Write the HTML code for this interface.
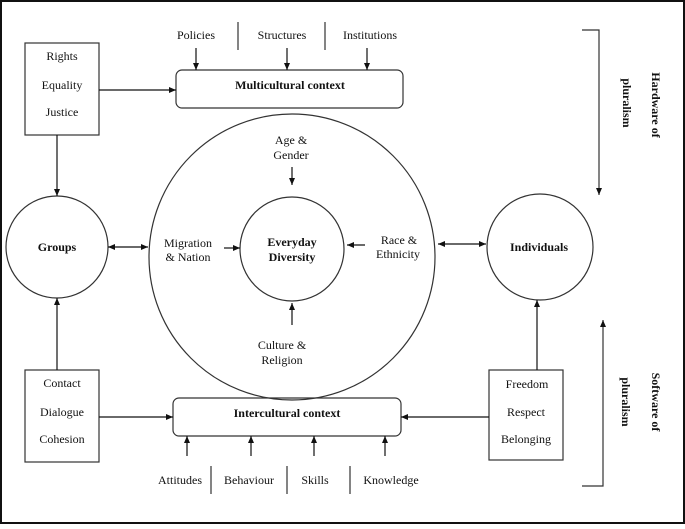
<!DOCTYPE html>
<html><head><meta charset="utf-8"><style>
html,body{margin:0;padding:0;background:#fff}
svg text{font-family:"Liberation Serif",serif;fill:#111}
</style></head><body>
<svg width="685" height="524" viewBox="0 0 685 524" xmlns="http://www.w3.org/2000/svg">
<defs>
<marker id="a" markerWidth="8" markerHeight="8" refX="7" refY="4" orient="auto-start-reverse" markerUnits="userSpaceOnUse">
<path d="M0,1 L7,4 L0,7 Z" fill="#111"/></marker>
</defs>
<rect x="1" y="1" width="683" height="522" fill="none" stroke="#111" stroke-width="2"/>
<g stroke="#333" stroke-width="1.2" fill="none">
<rect x="25" y="43" width="74" height="92"/>
<rect x="176" y="70" width="227" height="38" rx="6"/>
<circle cx="292" cy="257" r="143"/>
<circle cx="292" cy="249" r="52"/>
<circle cx="57" cy="247" r="51"/>
<circle cx="540" cy="247" r="53"/>
<rect x="25" y="370" width="74" height="92"/>
<rect x="173" y="398" width="228" height="38" rx="6"/>
<rect x="489" y="370" width="74" height="90"/>
<line x1="238" y1="22" x2="238" y2="50"/>
<line x1="325" y1="22" x2="325" y2="50"/>
<line x1="211" y1="466" x2="211" y2="494"/>
<line x1="287" y1="466" x2="287" y2="494"/>
<line x1="350" y1="466" x2="350" y2="494"/>
<polyline points="582,30 599,30 599,195" marker-end="url(#a)"/>
<polyline points="582,486 603,486 603,320" marker-end="url(#a)"/>
</g>
<g stroke="#111" stroke-width="1.2" fill="none" marker-end="url(#a)">
<line x1="196" y1="48" x2="196" y2="70"/>
<line x1="287" y1="48" x2="287" y2="70"/>
<line x1="367" y1="48" x2="367" y2="70"/>
<line x1="187" y1="456" x2="187" y2="436"/>
<line x1="251" y1="456" x2="251" y2="436"/>
<line x1="314" y1="456" x2="314" y2="436"/>
<line x1="385" y1="456" x2="385" y2="436"/>
<line x1="99" y1="90" x2="176" y2="90"/>
<line x1="99" y1="417" x2="173" y2="417"/>
<line x1="489" y1="417" x2="401" y2="417"/>
<line x1="57" y1="135" x2="57" y2="196"/>
<line x1="57" y1="370" x2="57" y2="298"/>
<line x1="537" y1="370" x2="537" y2="300"/>
<line x1="292" y1="167" x2="292" y2="185"/>
<line x1="292" y1="325" x2="292" y2="303"/>
<line x1="224" y1="248" x2="240" y2="248"/>
<line x1="365" y1="245" x2="347" y2="245"/>
<line x1="108" y1="247" x2="148" y2="247" marker-start="url(#a)"/>
<line x1="438" y1="244" x2="486" y2="244" marker-start="url(#a)"/>
</g>
<g font-size="12" text-anchor="middle">
<text x="62" y="60">Rights</text>
<text x="62" y="89">Equality</text>
<text x="62" y="116">Justice</text>
<text x="196" y="39">Policies</text>
<text x="282" y="39">Structures</text>
<text x="370" y="39">Institutions</text>
<text x="290" y="89" font-weight="bold">Multicultural context</text>
<text x="291" y="144">Age &amp;</text>
<text x="291" y="159">Gender</text>
<text x="188" y="247">Migration</text>
<text x="188" y="261">&amp; Nation</text>
<text x="292" y="246" font-weight="bold">Everyday</text>
<text x="292" y="261" font-weight="bold">Diversity</text>
<text x="399" y="244">Race &amp;</text>
<text x="398" y="258">Ethnicity</text>
<text x="282" y="349">Culture &amp;</text>
<text x="282" y="364">Religion</text>
<text x="57" y="251" font-weight="bold">Groups</text>
<text x="539" y="251" font-weight="bold">Individuals</text>
<text x="62" y="387">Contact</text>
<text x="62" y="416">Dialogue</text>
<text x="62" y="443">Cohesion</text>
<text x="287" y="417" font-weight="bold">Intercultural context</text>
<text x="527" y="388">Freedom</text>
<text x="526" y="416">Respect</text>
<text x="526" y="443">Belonging</text>
<text x="180" y="484">Attitudes</text>
<text x="249" y="484">Behaviour</text>
<text x="315" y="484">Skills</text>
<text x="391" y="484">Knowledge</text>
<text transform="translate(652,105) rotate(90)" font-weight="bold">Hardware of</text>
<text transform="translate(623,103) rotate(90)" font-weight="bold">pluralism</text>
<text transform="translate(652,402) rotate(90)" font-weight="bold">Software of</text>
<text transform="translate(622,402) rotate(90)" font-weight="bold">pluralism</text>
</g>
</svg>
</body></html>
